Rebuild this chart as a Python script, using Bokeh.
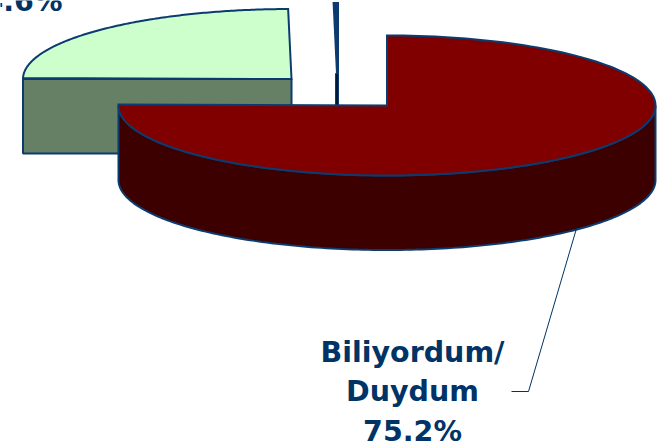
import numpy as np
from bokeh.core.properties import value
from bokeh.embed import file_html
from bokeh.models import Range1d
from bokeh.plotting import figure
from bokeh.resources import INLINE

labels = ["Biliyordum/", "Duydum"]
values = [75.2, 24.6, 0.2]
value_labels = ["75.2%", "24.6%"]
top_colors = ["#800000", "#ccffcc", "#003366"]
side_colors = ["#3d0000", "#668066", "#001a33"]
centers = [(386.5, 105), (291, 78.5), (337, 73)]
RX, RY, DEPTH = 268.5, 70, 74.5
EDGE = "#0b3b6f"
TEXT = "#003366"
FONT = value("DejaVu Sans")
SIZE = "28.5px"
BASE = -11  # baseline correction of the svg text

p = figure(width=665, height=448, output_backend="svg", toolbar_location=None,
           x_range=Range1d(0, 665), y_range=Range1d(448, 0),
           min_border=0, outline_line_color=None, background_fill_color="white")
p.axis.visible = False
p.grid.visible = False


def arc(c, a, b, n=160, dy=0):
    t = np.radians(np.linspace(a, b, n))
    return c[0] + RX * np.sin(t), c[1] - RY * np.cos(t) + dy


bounds = np.concatenate([[0], np.cumsum(values)]) / sum(values) * 360
for i in (1, 2, 0):
    a, b, c = bounds[i], bounds[i + 1], centers[i]
    lo, hi = max(a, 90), min(b, 270)
    if lo < hi:
        ux, uy = arc(c, lo, hi)
        dx, dy = arc(c, hi, lo, dy=DEPTH)
        p.patch(list(ux) + list(dx), list(uy) + list(dy), fill_color=side_colors[i],
                line_color=EDGE, line_width=2)
    if i == 1:
        ex, ey = arc(c, a, a, n=1)
        p.patch([c[0], ex[0], ex[0], c[0]], [c[1], c[1], c[1] + DEPTH, c[1] + DEPTH],
                fill_color=side_colors[i], line_color=EDGE, line_width=2)
    if i == 2:
        p.patch([c[0] - 2, c[0] + 1, c[0] + 1, c[0] - 2], [c[1], c[1], c[1] + DEPTH, c[1] + DEPTH],
                fill_color=side_colors[i], line_color=EDGE, line_width=1)
    ax, ay = arc(c, a, b)
    p.patch([c[0]] + list(ax), [c[1]] + list(ay), fill_color=top_colors[i],
            line_color=EDGE, line_width=3 if i == 2 else 2, line_join="miter")

p.text([412, 412, 412], [363 + BASE, 402 + BASE, 442 + BASE], text=labels + [value_labels[0]],
       text_font=FONT, text_font_size=SIZE, text_font_style="bold", text_color=TEXT,
       text_align="center", text_baseline="alphabetic")
p.text([62], [12 + BASE], text=[value_labels[1]], text_font=FONT, text_font_size=SIZE,
       text_font_style="bold", text_color=TEXT, text_align="right",
       text_baseline="alphabetic")
p.line([576, 528, 511], [228, 391, 391], line_color=TEXT, line_width=1)

open("out.html", "w").write(file_html(p, INLINE))
